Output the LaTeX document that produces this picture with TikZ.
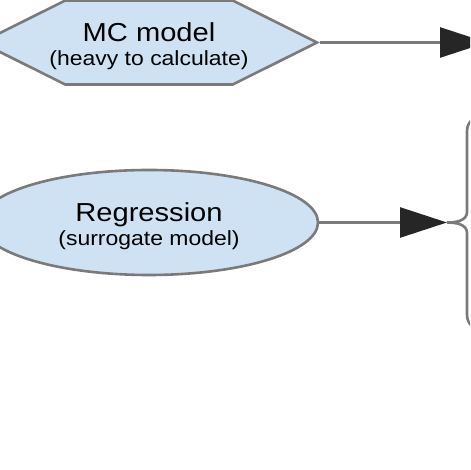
\documentclass[tikz,border=0pt]{standalone}
\usepackage{fontspec}
\setsansfont{Liberation Sans}[FakeStretch=1.12]
\usetikzlibrary{shapes.geometric, shapes.symbols, arrows.meta}
\definecolor{boxblue}{HTML}{CFE2F3}
\definecolor{edgegray}{HTML}{7A7A7A}
\definecolor{tipgray}{HTML}{262626}
\tikzset{ hexa/.style = { signal
                        , signal to           = west and east
                        , signal pointer angle = 53
                        , draw                = edgegray
                        , fill                = boxblue
                        , line width          = 2.6pt
                        , inner sep           = 0pt
                        , minimum width       = 336pt
                        , minimum height      = 84pt
                        },
          oval/.style = { ellipse
                        , draw                = edgegray
                        , fill                = boxblue
                        , line width          = 2.6pt
                        , inner sep           = 0pt
                        , minimum width       = 338pt
                        , minimum height      = 105pt
                        },
          txt/.style  = { align               = center
                        , inner sep           = 0pt
                        , yshift              = -4pt
                        , font                = \sffamily\fontsize{20.5}{24}\selectfont
                        },
          conn/.style = { draw                = edgegray
                        , line width          = 2.6pt
                        , -{Triangle[length=47pt, width=30pt, color=tipgray]}
                        },
          curly/.style = { draw               = edgegray
                         , line width         = 2.6pt
                         }
        }

\begin{document}
\begin{tikzpicture}[font=\sffamily, x=1pt, y=1pt]
            \useasboundingbox (0,0) rectangle (470,470);
            \clip (0,0) rectangle (470,470);
            % left column
            \node[hexa, label={[txt]center:{{\fontsize{26}{24}\selectfont MC model}\\
                 (heavy to calculate)}}] (mc) at (149,427.5) {};
            \node[oval, label={[txt]center:{{\fontsize{26}{24}\selectfont Regression}\\
                 (surrogate model)}}] (reg) at (149,247.5) {};
            % free ends
            \coordinate (out) at (487,427.5);
            \coordinate (tip) at (447,247.5);
            \draw[conn] (mc.east) -- (out);
            \draw[conn] (reg.east) -- (tip);
            % brace
            \path[curly] (484,355) to[out=180, in=90] (467,339)
                -- (467,258) to[out=-90, in=0] (tip)
                to[out=0, in=90] (467,237)
                -- (467,155) to[out=-90, in=180] (484,139);
\end{tikzpicture}
\end{document}
